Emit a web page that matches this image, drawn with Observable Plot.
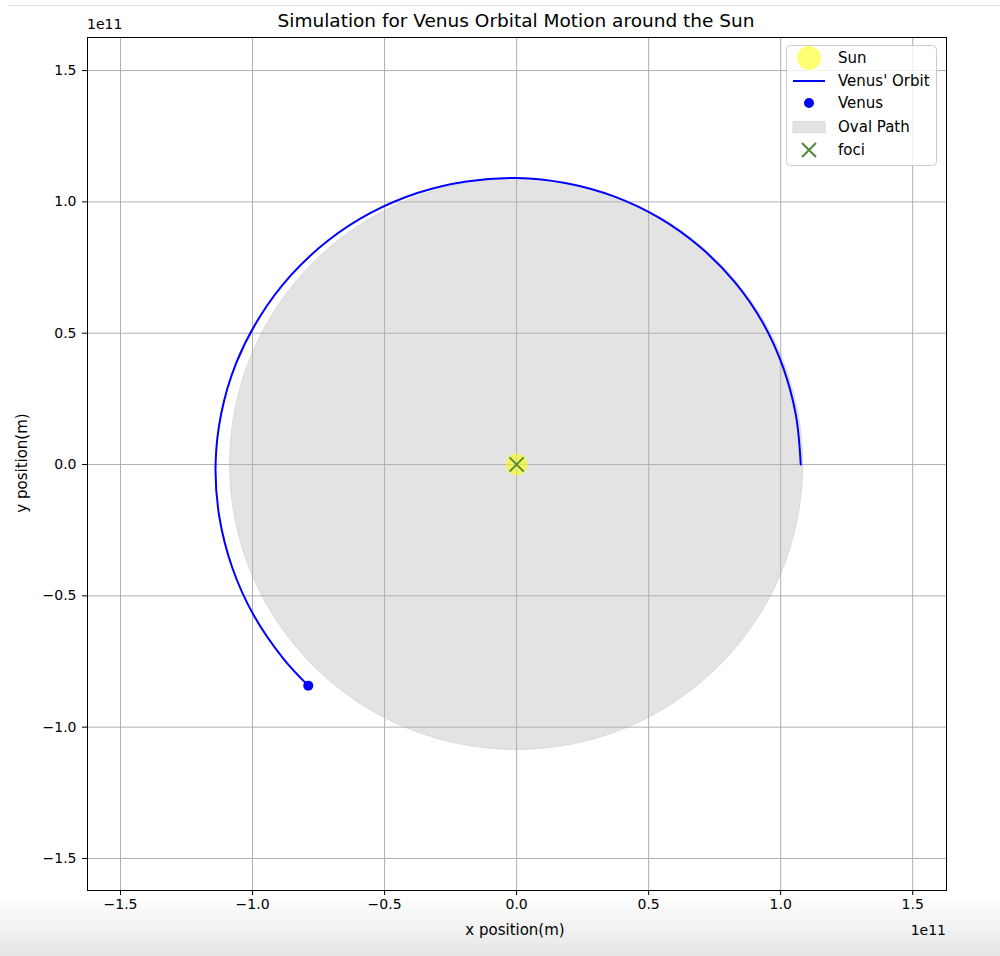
<!DOCTYPE html>
<html><head><meta charset="utf-8">
<script src="https://cdn.jsdelivr.net/npm/d3@7"></script>
<script src="https://cdn.jsdelivr.net/npm/@observablehq/plot@0.6"></script>
<style>
html,body{margin:0;padding:0;}
body{width:1000px;height:956px;overflow:hidden;font-family:"DejaVu Sans",sans-serif;
  background:linear-gradient(to bottom,#fff 0px,#fff 895px,#e6e6e6 956px);}
#wrap{position:relative;width:1000px;height:956px;}
#wrap .abs{position:absolute;white-space:nowrap;color:#000;}
#topline{position:absolute;left:9px;top:5px;width:991px;height:1px;background:#dcdcdc;}
</style></head><body><div id="wrap"><div id="topline"></div></div>
<script>
// ---- data (units of 1e11 m) ----
const orbitX = [1.076, 1.058, 1.010, 0.933, 0.827, 0.695, 0.542, 0.371, 0.189, 0.000, -0.190, -0.376, -0.553, -0.715, -0.856, -0.973, -1.062, -1.118, -1.140, -1.126, -1.077, -0.995, -0.882, -0.789];
const orbitY = [0.000, 0.186, 0.368, 0.539, 0.694, 0.828, 0.938, 1.020, 1.071, 1.091, 1.078, 1.034, 0.958, 0.852, 0.719, 0.562, 0.386, 0.197, 0.000, -0.198, -0.392, -0.575, -0.741, -0.842];
const venusPos = [{x: -0.789, y: -0.842}];
const sunPos = [{x: 0, y: 0}];
const fociPos = [{x: 0, y: 0}];
const ovalShape = [{cx: 0, cy: 0, a: 1.085, b: 1.087}];
const tickValues = [-1.5, -1.0, -0.5, 0.0, 0.5, 1.0, 1.5];
const offsetLabel = "1e11";
const titleText = "Simulation for Venus Orbital Motion around the Sun";
const xLabel = "x position(m)";
const yLabel = "y position(m)";
const legendItems = ["Sun", "Venus' Orbit", "Venus", "Oval Path", "foci"];

const orbit = orbitX.map((x, i) => ({x, y: orbitY[i]}));
const fmt = d => d.toFixed(1).replace("-", "\u2212");

const ovalMark = (...args) => {
  const scales = args.find(a => a && typeof a.x === "function" && typeof a.y === "function");
  const g = d3.create("svg:g");
  for (const o of ovalShape) {
    g.append("ellipse")
      .attr("cx", scales.x(o.cx)).attr("cy", scales.y(o.cy))
      .attr("rx", Math.abs(scales.x(o.cx + o.a) - scales.x(o.cx)))
      .attr("ry", Math.abs(scales.y(o.cy) - scales.y(o.cy + o.b)))
      .attr("fill", "#e3e3e3").attr("stroke", "#dadada").attr("stroke-width", 1);
  }
  return g.node();
};

const plot = Plot.plot({
  width: 1000, height: 956,
  marginLeft: 87, marginRight: 54, marginTop: 37, marginBottom: 66,
  style: {background: "transparent", fontFamily: "DejaVu Sans", fontSize: "14px", color: "#000"},
  x: {domain: [-1.625, 1.628], label: null},
  y: {domain: [-1.622, 1.626], label: null},
  marks: [
    Plot.frame({fill: "white", stroke: null}),
    ovalMark,
    Plot.gridX(tickValues, {stroke: "#b0b0b0", strokeOpacity: 1, strokeWidth: 1}),
    Plot.gridY(tickValues, {stroke: "#b0b0b0", strokeOpacity: 1, strokeWidth: 1}),
    Plot.line(orbit, {x: "x", y: "y", stroke: "blue", strokeWidth: 2, curve: "catmull-rom"}),
    Plot.dot(venusPos, {x: "x", y: "y", r: 5, fill: "blue"}),
    Plot.dot(sunPos, {x: "x", y: "y", r: 11, fill: "yellow", fillOpacity: 0.55}),
    Plot.dot(fociPos, {x: "x", y: "y", r: 6.5, symbol: "times", stroke: "#4b8a36", strokeWidth: 1.8}),
    Plot.axisX(tickValues, {tickFormat: fmt, tickSize: 5, tickPadding: 4, fontSize: 14, label: null}),
    Plot.axisY(tickValues, {tickFormat: fmt, tickSize: 5, tickPadding: 6, fontSize: 14, label: null}),
    Plot.frame({stroke: "#000", strokeWidth: 1})
  ]
});
const wrap = document.getElementById("wrap");
plot.style.position = "absolute"; plot.style.left = "0px"; plot.style.top = "0px";
wrap.appendChild(plot);

function addText(txt, css) {
  const d = document.createElement("div");
  d.className = "abs"; d.textContent = txt;
  Object.assign(d.style, css);
  wrap.appendChild(d);
  return d;
}
addText(titleText, {left: "516px", top: "20px", fontSize: "18.5px", transform: "translate(-50%,-50%)"});
addText(offsetLabel, {left: "87px", top: "24px", fontSize: "14px", transform: "translate(0,-50%)"});
addText(offsetLabel, {right: "54px", top: "930px", fontSize: "14px", transform: "translate(0,-50%)"});
addText(xLabel, {left: "515px", top: "930px", fontSize: "15px", transform: "translate(-50%,-50%)"});
addText(yLabel, {left: "22px", top: "463px", fontSize: "15px", transform: "translate(-50%,-50%) rotate(-90deg)"});

// legend
const lg = d3.select(wrap).append("svg")
  .attr("width", 152).attr("height", 122)
  .style("position", "absolute").style("left", "786px").style("top", "45px");
lg.append("rect").attr("x", 0.5).attr("y", 0.5).attr("width", 150).attr("height", 120).attr("rx", 4)
  .attr("fill", "white").attr("fill-opacity", 0.8).attr("stroke", "#cccccc");
const rowY = [13, 36, 58, 82, 105];
const mx = 23;
lg.append("circle").attr("cx", mx).attr("cy", rowY[0]).attr("r", 12).attr("fill", "yellow").attr("fill-opacity", 0.55);
lg.append("line").attr("x1", mx - 16).attr("x2", mx + 16).attr("y1", rowY[1]).attr("y2", rowY[1]).attr("stroke", "blue").attr("stroke-width", 2);
lg.append("circle").attr("cx", mx).attr("cy", rowY[2]).attr("r", 5).attr("fill", "blue");
lg.append("rect").attr("x", mx - 16).attr("y", rowY[3] - 5.5).attr("width", 32).attr("height", 11).attr("fill", "#e3e3e3").attr("stroke", "#dadada");
lg.append("path").attr("d", `M${mx-7},${rowY[4]-7}L${mx+7},${rowY[4]+7}M${mx-7},${rowY[4]+7}L${mx+7},${rowY[4]-7}`).attr("stroke", "#4b8a36").attr("stroke-width", 2);
legendItems.forEach((t, i) => {
  lg.append("text").attr("x", 52).attr("y", rowY[i]).attr("dy", "0.35em")
    .attr("font-family", "DejaVu Sans").attr("font-size", 15).attr("fill", "#000").text(t);
});
</script>
</body></html>
